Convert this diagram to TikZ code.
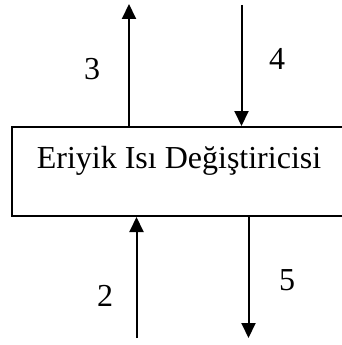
\documentclass[tikz,border=0pt]{standalone}
\usepackage{fontspec}
\setmainfont{Liberation Serif}
\usetikzlibrary{arrows.meta}
\begin{document}
\begin{tikzpicture}[x=1pt,y=-1pt,
  flow/.style={line width=2pt,-{Triangle[length=15pt,width=14pt]}},
  lbl/.style={anchor=base,inner sep=0pt,font=\fontsize{32}{38}\selectfont},
  boxstyle/.style={draw,line width=2pt,rectangle,inner sep=0pt,minimum width=336pt,minimum height=89pt}]
\useasboundingbox (0,0) rectangle (342,345);
\node[boxstyle] (box) at (180,171.5) {};
\node[lbl] (title) at (179,168) {Eriyik Isı Değiştiricisi};
\coordinate (t3) at (129,4);
\coordinate (s4) at (241.5,5);
\coordinate (s2) at (136.5,338);
\coordinate (t5) at (248.5,338);
\draw[flow] (box.north -| t3) -- (t3);
\draw[flow] (s4) -- (box.north -| s4);
\draw[flow] (s2) -- (box.south -| s2);
\draw[flow] (box.south -| t5) -- (t5);
\node[lbl] (n3) at (92,79) {3};
\node[lbl] (n4) at (277,69) {4};
\node[lbl] (n2) at (105,306) {2};
\node[lbl] (n5) at (287,290) {5};
\end{tikzpicture}
\end{document}
